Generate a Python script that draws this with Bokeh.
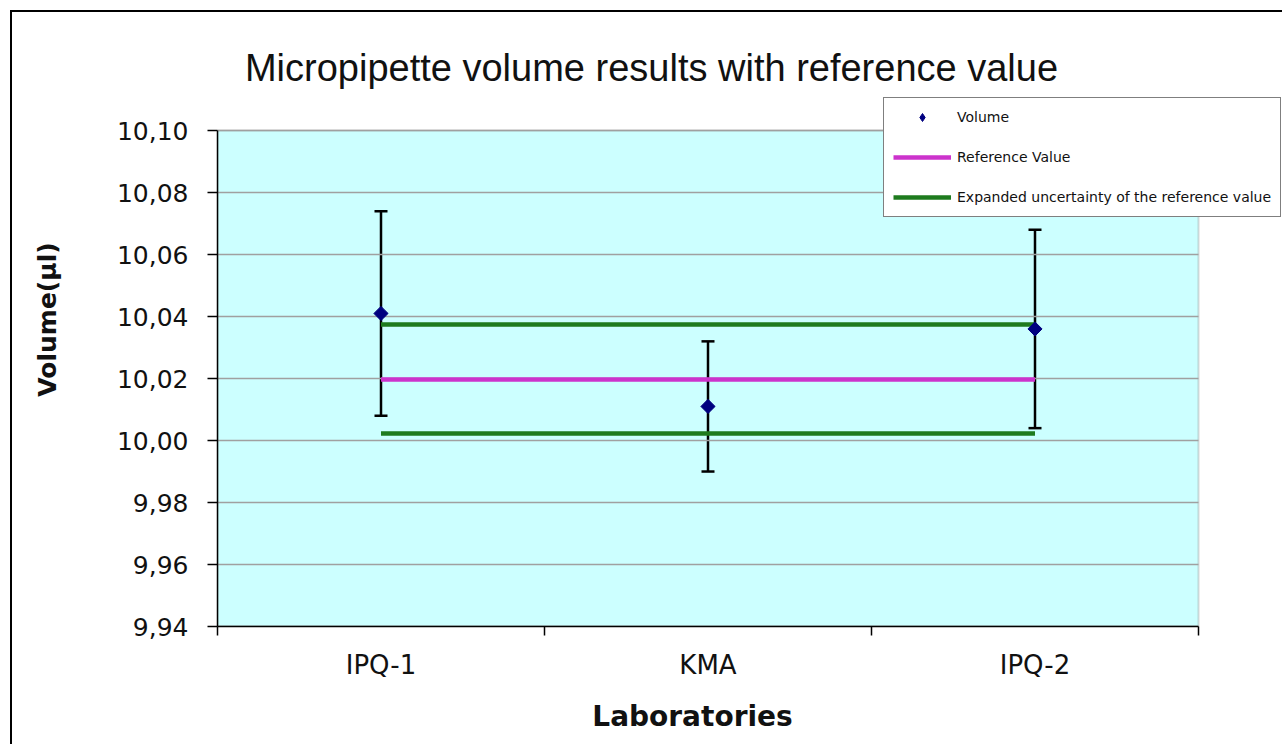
import math
from bokeh.plotting import figure
from bokeh.models import (Range1d, FixedTicker, CustomJSTickFormatter, Whisker, TeeHead,
                          ColumnDataSource, Legend, LegendItem, Label, BoxAnnotation)
from bokeh.embed import file_html
from bokeh.resources import INLINE

# ---- data ----
labs = ["IPQ-1", "KMA", "IPQ-2"]
volume = [10.041, 10.011, 10.036]
expanded_u = [0.033, 0.021, 0.032]
ref_value = [10.0197, 10.0197, 10.0197]
ref_upper = [10.0374, 10.0374, 10.0374]
ref_lower = [10.0023, 10.0023, 10.0023]
y_ticks = [9.94, 9.96, 9.98, 10.00, 10.02, 10.04, 10.06, 10.08, 10.10]
title_text = "Micropipette volume results with reference value"
x_title = "Laboratories"
y_title = "Volume(\u03bcl)"
legend_labels = ["Volume", "Reference Value", "Expanded uncertainty of the reference value"]

n = len(labs)
x_pos = [i + 0.5 for i in range(n)]
src = ColumnDataSource(dict(
    x=x_pos, v=volume,
    up=[v + u for v, u in zip(volume, expanded_u)],
    lo=[v - u for v, u in zip(volume, expanded_u)],
    ref=ref_value, ru=ref_upper, rl=ref_lower,
))

W, H = 1272, 734
# the frame covers the whole chart area (title and legend included);
# the cyan plot area is limited to the data extents
p = figure(width=W, height=H, output_backend="svg", toolbar_location=None,
           x_range=Range1d(0, n + 0.263), y_range=Range1d(y_ticks[0], y_ticks[-1] + 0.0381),
           min_border_left=205, min_border_right=0, min_border_top=0, min_border_bottom=120)
p.styles = {"margin-left": "10px", "margin-top": "10px",
            "border-left": "2px solid black", "border-top": "2px solid black"}
p.border_fill_color = "white"
p.background_fill_color = "white"
p.outline_line_color = None

plot_area = BoxAnnotation(left=0, right=n, bottom=y_ticks[0], top=y_ticks[-1],
                          fill_color="#CCFFFF", fill_alpha=1.0,
                          line_color="#808080", line_width=2, level="underlay")
p.add_layout(plot_area)

# gridlines inside the plot area only
p.xgrid.visible = False
p.ygrid.visible = False
p.segment(x0=[0] * len(y_ticks), x1=[n] * len(y_ticks), y0=y_ticks, y1=y_ticks,
          line_color="#A0A0A0", line_width=1.5)

# x axis
xa = p.xaxis[0]
xa.bounds = (0, n)
xa.ticker = FixedTicker(ticks=x_pos, minor_ticks=list(range(n + 1)))
xa.major_label_overrides = {x: l for x, l in zip(x_pos, labs)}
xa.major_tick_line_color = None
xa.major_tick_out = 0
xa.major_tick_in = 0
xa.minor_tick_out = 9
xa.minor_tick_in = 0
xa.minor_tick_line_color = "black"
xa.minor_tick_line_width = 1.5
xa.axis_line_color = "black"
xa.axis_line_width = 1.5
xa.major_label_standoff = 14
xa.major_label_text_font = "DejaVu Sans"
xa.major_label_text_font_size = "26px"
xa.major_label_text_color = "#111111"
# trailing no-break spaces shift the centred title left, under the plot area
xa.axis_label = x_title + "\u00a0" * 12
xa.axis_label_standoff = 17
xa.axis_label_text_font = "DejaVu Sans"
xa.axis_label_text_font_size = "28px"
xa.axis_label_text_font_style = "bold"
xa.axis_label_text_color = "#111111"

# y axis
ya = p.yaxis[0]
ya.bounds = (y_ticks[0], y_ticks[-1])
ya.ticker = FixedTicker(ticks=y_ticks)
ya.formatter = CustomJSTickFormatter(code="return tick.toFixed(2).replace('.', ',');")
ya.major_tick_out = 10
ya.major_tick_in = 0
ya.major_tick_line_color = "black"
ya.major_tick_line_width = 1.5
ya.minor_tick_line_color = None
ya.axis_line_color = "black"
ya.axis_line_width = 1.5
ya.major_label_standoff = 19
ya.major_label_text_font = "DejaVu Sans"
ya.major_label_text_font_size = "25px"
ya.major_label_text_color = "#111111"
ya.axis_label = y_title
ya.axis_label_standoff = 52
ya.axis_label_text_font = "DejaVu Sans"
ya.axis_label_text_font_size = "25px"
ya.axis_label_text_font_style = "bold"
ya.axis_label_text_color = "#111111"

# reference lines
r_ref = p.line("x", "ref", source=src, line_color="#CC33CC", line_width=4.5)
r_up = p.line("x", "ru", source=src, line_color="#1E7B1E", line_width=4.5)
r_lo = p.line("x", "rl", source=src, line_color="#1E7B1E", line_width=4.5)

# error bars
wh = Whisker(base="x", upper="up", lower="lo", source=src, dimension="height",
             line_color="black", line_width=2.5,
             upper_head=TeeHead(size=13, line_width=2.5, line_color="black"),
             lower_head=TeeHead(size=13, line_width=2.5, line_color="black"))
p.add_layout(wh)

r_vol = p.scatter("x", "v", source=src, marker="square", angle=math.pi / 4, size=10,
                  fill_color="#000080", line_color="#000080")
# diamond used only for the legend swatch
r_vol_key = p.scatter("x", "v", source=src, marker="diamond", size=12,
                      fill_color="#000080", line_color="#000080", visible=False)

legend = Legend(items=[LegendItem(label=legend_labels[0], renderers=[r_vol_key]),
                       LegendItem(label=legend_labels[1], renderers=[r_ref]),
                       LegendItem(label=legend_labels[2], renderers=[r_up])],
                location=(666, 409))
legend.glyph_width = 58
legend.glyph_height = 20
legend.spacing = 20
legend.padding = 9
legend.margin = 0
legend.label_standoff = 6
legend.label_text_font = "DejaVu Sans"
legend.label_text_font_size = "14px"
legend.label_text_color = "#111111"
legend.border_line_color = "black"
legend.border_line_width = 1.5
legend.background_fill_color = "white"
legend.background_fill_alpha = 1.0
p.add_layout(legend, "center")

# title
p.add_layout(Label(x=434, y=559, x_units="screen", y_units="screen", text=title_text,
                   text_align="center", text_baseline="alphabetic",
                   text_font="Liberation Sans", text_font_size="38px",
                   text_color="#111111"))

open("out.html", "w").write(file_html(p, INLINE))
